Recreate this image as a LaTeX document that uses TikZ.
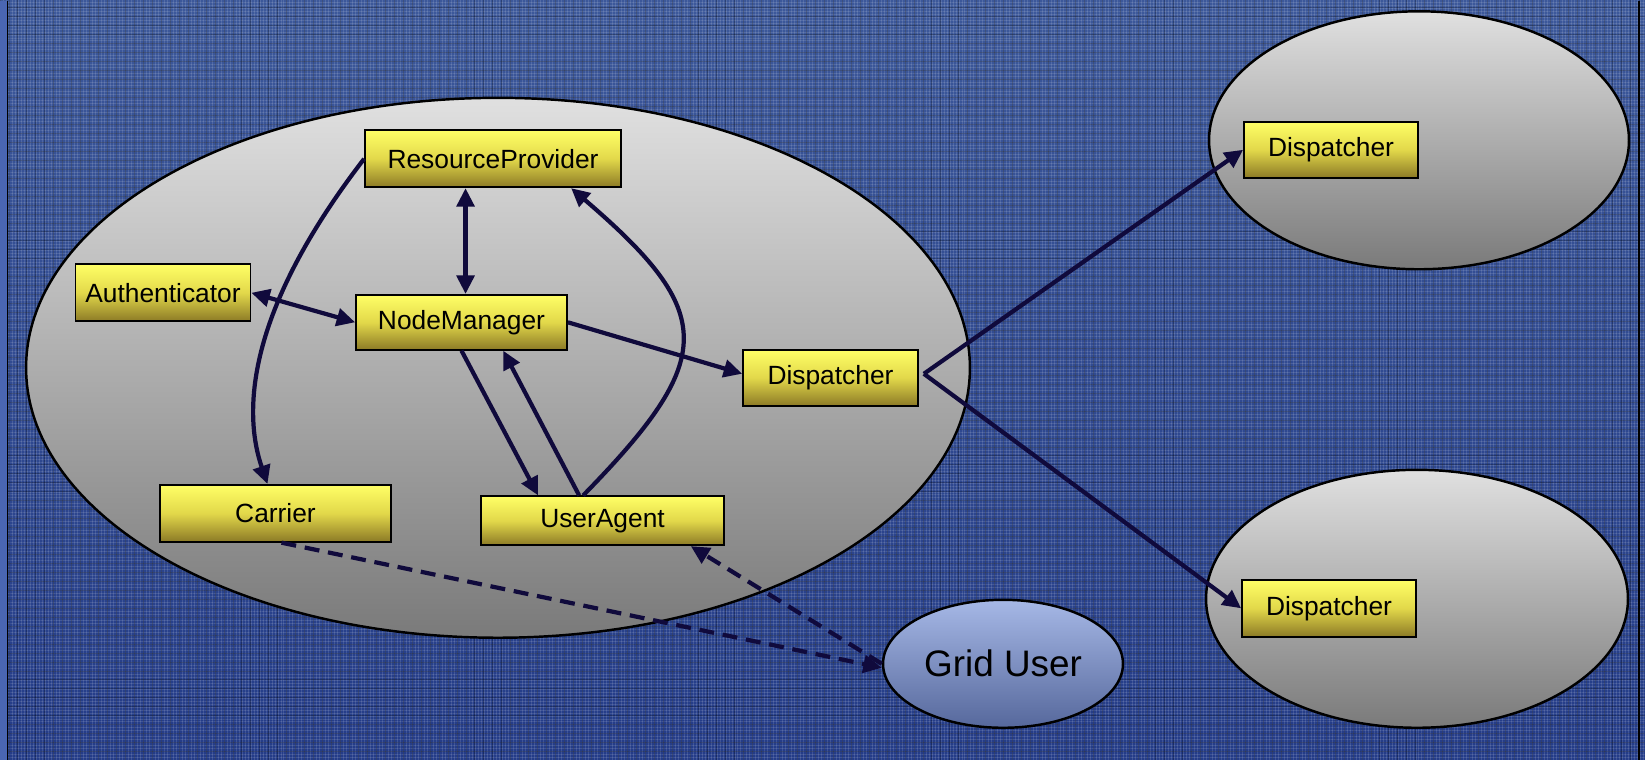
\documentclass[tikz,border=0pt]{standalone}
\usepackage{fontspec}
\setmainfont{Liberation Sans}
\usetikzlibrary{arrows.meta, calc, shapes.geometric, patterns.meta}
\definecolor{bgtop}{RGB}{60,88,154}
\definecolor{bgbot}{RGB}{36,60,136}
\definecolor{strip}{RGB}{74,102,178}
\definecolor{navy}{RGB}{16,10,60}
\definecolor{boxtop}{RGB}{255,255,102}
\definecolor{boxmid}{RGB}{226,216,74}
\definecolor{boxbot}{RGB}{140,122,38}
\definecolor{hosttop}{RGB}{224,224,224}
\definecolor{hostbot}{RGB}{122,122,122}
\definecolor{usertop}{RGB}{166,184,230}
\definecolor{userbot}{RGB}{86,104,156}

\begin{document}
\begin{tikzpicture}[x=0.02cm, y=-0.02cm,
  >={Triangle[length=10.5pt,width=10pt]},
  comp/.style={draw=black, line width=1pt, top color=boxtop, bottom color=boxbot, middle color=boxmid,
    minimum height=1.14cm, inner sep=0pt, font=\fontsize{15}{18}\selectfont},
  host/.style={ellipse, draw=black, line width=1.4pt, top color=hosttop, bottom color=hostbot, inner sep=0pt},
  link/.style={navy, line width=2.4pt},
  dlink/.style={link, dash pattern=on 8.5pt off 5pt}]
  % background
  \fill[top color=bgtop, bottom color=bgbot] (0,0) rectangle (1645,759);
  \fill[pattern={Lines[angle=0,distance=1.7pt,line width=0.3pt]}, pattern color=white, opacity=0.12] (0,0) rectangle (1645,759);
  \fill[pattern={Lines[angle=90,distance=1.7pt,line width=0.3pt]}, pattern color=white, opacity=0.12] (0,0) rectangle (1645,759);
  \fill[pattern={Lines[angle=0,distance=5.1pt,line width=0.5pt]}, pattern color=black, opacity=0.25] (0,0) rectangle (1645,759);
  \fill[pattern={Lines[angle=90,distance=5.1pt,line width=0.5pt]}, pattern color=black, opacity=0.25] (0,0) rectangle (1645,759);
  \fill[strip] (0,0) rectangle (7,759);
  \draw[black, line width=0.9pt] (7.5,0) -- (7.5,759) (1639,0) -- (1639,759);

  % hosts
  \node[host, minimum width=18.88cm, minimum height=10.8cm] (site) at (498,367) {};
  \node[host, minimum width=8.4cm, minimum height=5.16cm] (siteA) at (1419,139.5) {};
  \node[host, minimum width=8.44cm, minimum height=5.16cm] (siteB) at (1417,598) {};
  \node[host, top color=usertop, bottom color=userbot, minimum width=4.8cm, minimum height=2.56cm,
    font=\fontsize{21}{25}\selectfont] (GU) at (1003,663) {Grid User};

  % components
  \node[comp, minimum width=5.12cm] (RP) at (493,158) {ResourceProvider};
  \node[comp, minimum width=3.5cm] (Auth) at (163,292) {Authenticator};
  \node[comp, minimum width=4.22cm, minimum height=1.1cm] (NM) at (461.5,321.5) {NodeManager};
  \node[comp, minimum width=3.5cm, minimum height=1.12cm] (Disp) at (830.5,377) {Dispatcher};
  \node[comp, minimum width=3.48cm, minimum height=1.12cm] (DispA) at (1331,149) {Dispatcher};
  \node[comp, minimum width=3.48cm] (DispB) at (1329,607.5) {Dispatcher};
  \node[comp, minimum width=4.62cm] (Car) at (275.5,512.5) {Carrier};
  \node[comp, minimum width=4.86cm, minimum height=0.98cm] (UA) at (602.5,520) {UserAgent};

  % links
  \draw[link, <->] ([xshift=2.3pt]NM.north) -- ([xshift=2.3pt]NM.north |- RP.south);
  \draw[link, <->] (Auth.east) -- (NM.west);
  \draw[link, ->] (NM.east) -- ([yshift=2.3pt]Disp.west);
  \draw[link, ->] (NM.south) -- ($(UA.north west)+(58,0)$);
  \draw[link, ->] ($(UA.north west)+(99,0)$) -- ($(NM.south west)+(148,0)$);
  \draw[link, ->] ($(UA.north west)+(103,0)$) .. controls +(134,-137) and +(146,125) .. ($(RP.south west)+(207,0)$);
  \draw[link, ->] (RP.west) .. controls +(-125,162) and +(-22,-64) .. ($(Car.north)+(-8,0)$);
  \coordinate (fork) at ($(Disp.east)+(5,-4)$);
  \draw[link, ->] (fork) -- (DispA.west);
  \draw[link, ->] (fork) -- (DispB.west);
  \draw[dlink, ->] ($(Car.south)+(6,0)$) -- ($(GU.west)+(0,4)$);
  \draw[dlink, ->] (GU.west) -- ($(UA.south east)+(-34,0)$);
\end{tikzpicture}
\end{document}
